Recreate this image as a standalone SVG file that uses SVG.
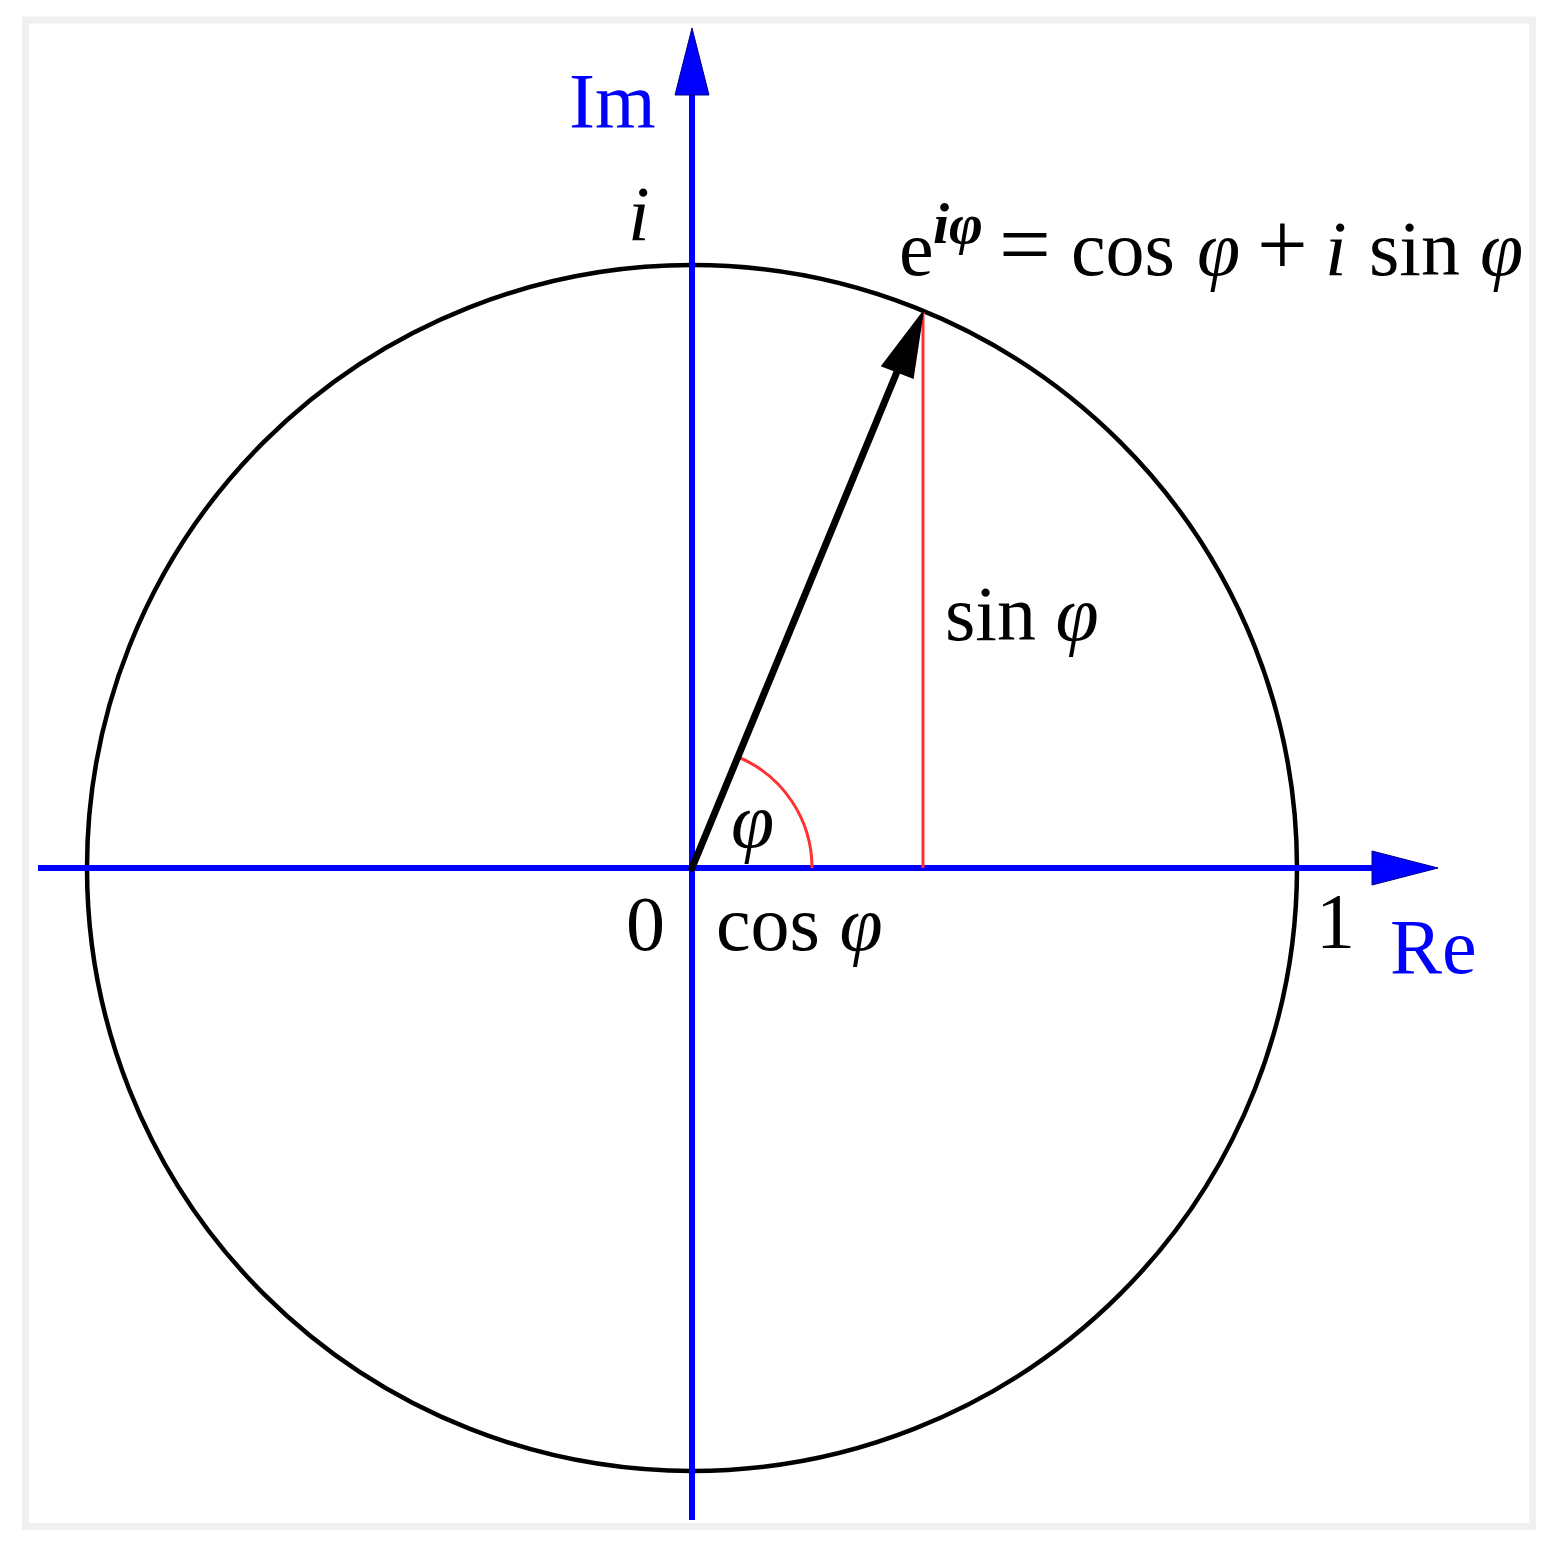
<svg xmlns="http://www.w3.org/2000/svg" width="1554" height="1545" viewBox="0 0 1554 1545">
<style>
.t{font-family:"Liberation Serif","Times New Roman",serif;font-size:78px;fill:#000}
.it{font-style:italic}
.blue{fill:#0000ff}
.axis{stroke:#0000ff;stroke-width:6;fill:none}
.head{fill:#0000ff;stroke:#00008b;stroke-width:1}
.red{stroke:#ff3030;stroke-width:3;fill:none}
</style>
<rect x="0" y="0" width="1554" height="1545" fill="#ffffff"/>
<rect x="25.5" y="20" width="1507" height="1506.5" fill="#ffffff" stroke="#f0f0f0" stroke-width="7"/>
<g id="circle">
<ellipse cx="692" cy="868" rx="605" ry="603" fill="none" stroke="#000" stroke-width="4.5"/>
</g>
<g id="connectors">
<line class="axis" x1="38" y1="868" x2="1380" y2="868"/>
<polygon class="head" points="1438,868 1372,851 1372,885"/>
<line class="axis" x1="692" y1="1520" x2="692" y2="90"/>
<polygon class="head" points="692,28 675,95 709,95"/>
<line class="red" x1="923" y1="312" x2="923" y2="868"/>
<path class="red" d="M812,868 A120,120 0 0 0 738,757"/>
<line x1="692" y1="868" x2="899" y2="367" stroke="#000" stroke-width="7" stroke-linecap="round"/>
<polygon points="923,312 882,366 913,378" fill="#000" stroke="#000" stroke-width="1.5"/>
</g>
<g id="labels">
<text class="t blue" x="569" y="127">Im</text>
<text class="t it" x="628" y="240">i</text>
<text class="t" y="275"><tspan x="899">e</tspan><tspan class="it" x="933" y="243" font-size="58" font-weight="bold">iφ</tspan><tspan x="999" y="275" font-size="92">=</tspan><tspan x="1071">cos</tspan><tspan class="it" x="1197">φ</tspan><tspan x="1257" font-size="90">+</tspan><tspan class="it" x="1325">i</tspan><tspan x="1369">sin</tspan><tspan class="it" x="1480">φ</tspan></text>
<text class="t" x="945" y="640">sin <tspan class="it">φ</tspan></text>
<text class="t it" x="731" y="847">φ</text>
<text class="t" x="626" y="950">0</text>
<text class="t" x="716" y="950">cos <tspan class="it">φ</tspan></text>
<text class="t" x="1316" y="947">1</text>
<text class="t blue" x="1390" y="973">Re</text>
</g>
</svg>
